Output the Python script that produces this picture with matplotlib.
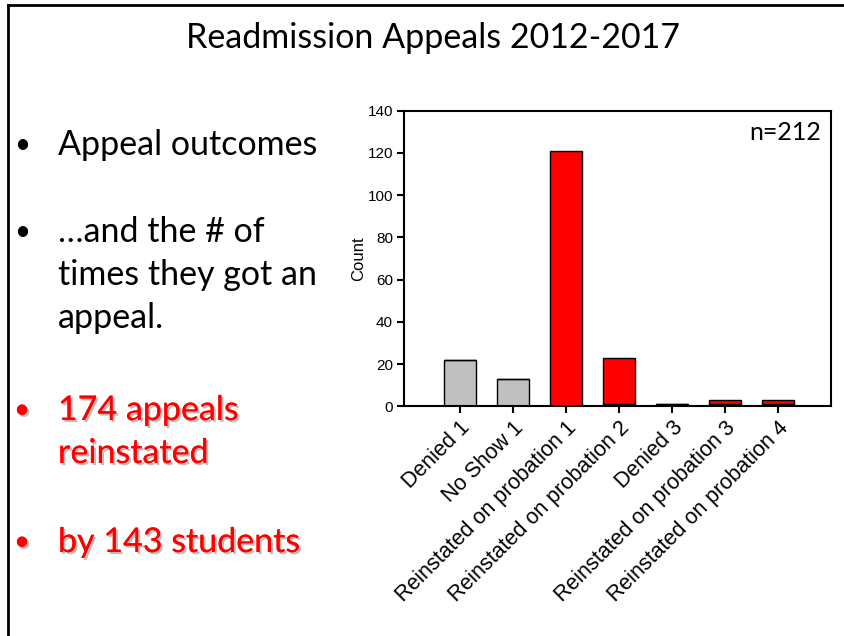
import numpy as np
import matplotlib.pyplot as plt
import matplotlib.patheffects as pe
from matplotlib.lines import Line2D

# appeal outcomes, counts per category
categories = ['Denied 1', 'No Show 1', 'Reinstated on probation 1',
              'Reinstated on probation 2', 'Denied 3',
              'Reinstated on probation 3', 'Reinstated on probation 4']
gray_counts = [22, 13, 0, 1, 1, 1, 1]
red_counts = [0, 0, 121, 22, 0, 2, 2]
yticks = [0, 20, 40, 60, 80, 100, 120, 140]

W, H = 844, 636
fig = plt.figure(figsize=(W / 100, H / 100), dpi=100)
fig.patch.set_facecolor('white')

# slide frame (top and left edge)
fig.add_artist(Line2D([8 / W, 1], [1 - 5 / H, 1 - 5 / H], color='black', lw=2))
fig.add_artist(Line2D([8 / W, 8 / W], [0, 1 - 5 / H], color='black', lw=2))

slide_font = 'Lato'
fs = 24.5
fig.text(433 / W, 1 - 38 / H, 'Readmission Appeals 2012-2017', ha='center', va='center',
         fontsize=fs, family=slide_font)

shadow = [pe.withSimplePatchShadow(offset=(1.5, -1.5), shadow_rgbFace='#a0a0a0', alpha=0.7),
          pe.Normal()]
bullets = [
    (145, ['Appeal outcomes'], 'black'),
    (232, ['\u2026and the # of', 'times they got an', 'appeal.'], 'black'),
    (410, ['174 appeals', 'reinstated'], '#ff0000'),
    (542, ['by 143 students'], '#ff0000'),
]
for y0, lines, col in bullets:
    effects = shadow if col != 'black' else None
    fig.text(22 / W, 1 - y0 / H, '\u2022', ha='center', va='center', fontsize=20,
             family=slide_font, color=col, path_effects=effects)
    for i, line in enumerate(lines):
        fig.text(58 / W, 1 - (y0 + i * 43) / H, line, ha='left', va='center', fontsize=fs,
                 family=slide_font, color=col, path_effects=effects)

ax = fig.add_axes([404 / W, 1 - 406.3 / H, 427 / W, 295.6 / H])
x = np.arange(len(categories))
ax.bar(x, gray_counts, width=0.6, color='#c0c0c0', edgecolor='black', lw=1)
ax.bar(x, red_counts, width=0.6, bottom=gray_counts, color='#ff0000', edgecolor='black', lw=1)

ax.set_xlim(-1.05, 7.0)
ax.set_ylim(0, 140)
ax.set_yticks(yticks)
ax.set_xticks(x)
ax.set_xticklabels(categories, rotation=45, ha='right', rotation_mode='anchor',
                   fontsize=15.5, family='Liberation Sans')
for lab in ax.get_yticklabels():
    lab.set_family('Liberation Sans')
    lab.set_fontsize(11)
ax.tick_params(axis='both', direction='out', length=5, width=1.5, pad=3)
ax.set_ylabel('Count', fontsize=12, family='Liberation Sans', labelpad=1)
for sp in ax.spines.values():
    sp.set_linewidth(1.5)

ax.text(0.977, 0.925, 'n=212', transform=ax.transAxes, ha='right', va='center',
        fontsize=18, family=slide_font)

fig.savefig('out.png', dpi=100)
